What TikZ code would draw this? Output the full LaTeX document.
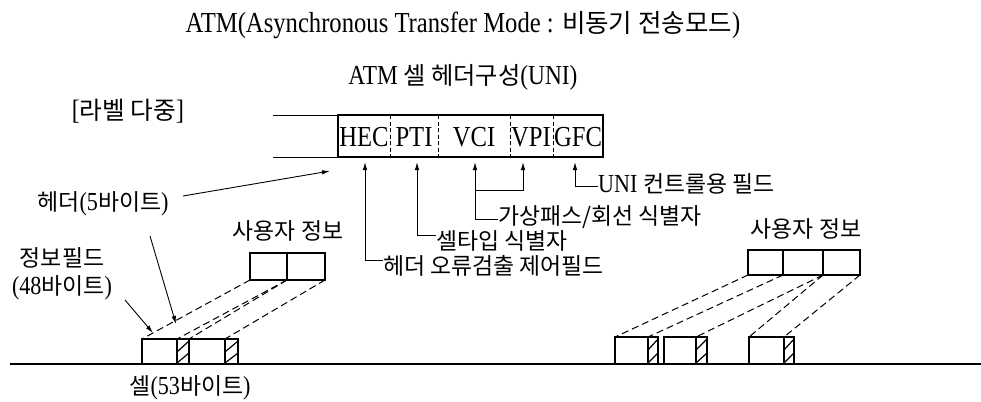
\documentclass[tikz,border=0pt]{standalone}
\usepackage{fontspec}
\setmainfont{Liberation Serif}[FakeStretch=0.85]
\newfontfamily\kr{Noto Sans CJK KR}[Scale=0.88]
\usetikzlibrary{arrows.meta}
\tikzset{
  txt/.style={inner sep=0pt, font=\fontsize{26}{30}\selectfont},
  fld/.style={inner sep=0pt, font=\fontsize{29}{32}\selectfont},
  arr/.style={-{Latex[length=8pt,width=4.5pt]}, line width=0.9pt},
  plain/.style={line width=0.9pt},
  dsh/.style={dash pattern=on 7pt off 4pt, line width=1pt},
  hbox/.style={line width=2pt},
  cellline/.style={line width=1.4pt},
  divd/.style={dash pattern=on 4pt off 2.5pt, line width=0.8pt},
  hatch/.style={line width=1.2pt}
}
\newcommand\atmcell[5]{%
  \draw[cellline] (#1,#4) rectangle (#3,#5);
  \draw[cellline] (#2,#4) -- (#2,#5);
  \draw[hatch] (#2,#5-1) -- (#3,#5-11);
  \draw[hatch] (#2,#4+13) -- (#3,#4+2);
}
\begin{document}
\begin{tikzpicture}[x=1pt,y=-1pt]
\useasboundingbox (0,0) rectangle (981,401);
\fill[white] (0,0) rectangle (981,401);

% titles
\node[txt,font=\fontsize{29}{32}\selectfont] (title) at (463,25) {ATM(Asynchronous Transfer Mode : {\kr 비동기 전송모드})};
\node[txt,font=\fontsize{27.5}{30}\selectfont] (sub) at (463,77) {ATM {\kr 셀 헤더구성}(UNI)};
\node[txt,font=\fontsize{28}{32}\selectfont] (lab) at (128,111) {[{\kr 라벨 다중}]};

% header box
\draw[plain] (273,115) -- (338,115);
\draw[plain] (273,157) -- (338,157);
\draw[hbox] (338,115) rectangle (603,157);
\foreach \xx in {390,438,510,553} \draw[divd] (\xx,115) -- (\xx,157);
\node[fld] (hec) at (364,137) {HEC};
\node[fld] (pti) at (414,137) {PTI};
\node[fld] (vci) at (474,137) {VCI};
\node[fld] (vpi) at (531,137) {VPI};
\node[fld] (gfc) at (578,137) {GFC};

% field arrows
\coordinate (hecT) at (365,162);
\coordinate (ptiT) at (417,162);
\coordinate (vciT) at (475,162);
\coordinate (vpiT) at (523,162);
\coordinate (gfcT) at (575,162);
\node[txt,anchor=west] (eHEC) at (383,266) {\kr 헤더 오류검출 제어필드};
\node[txt,anchor=west] (ePTI) at (436,241) {\kr 셀타입 식별자};
\node[txt,anchor=west] (eVC) at (498,217) {\kr 가상패스/회선 식별자};
\node[txt,anchor=west] (eGFC) at (598,184) {UNI {\kr 컨트롤용 필드}};
\draw[arr] (eHEC.west |- 0,260) -- (365,260) -- (hecT);
\draw[arr] (ePTI.west |- 0,235) -- (417,235) -- (ptiT);
\draw[arr] (eVC.west |- 0,219) -- (475,219) -- (vciT);
\draw[arr] (475,190) -- (523,190) -- (vpiT);
\draw[arr] (eGFC.west |- 0,186) -- (575,186) -- (gfcT);

% left labels
\node[txt] (h5) at (103,204) {{\kr 헤더}(5{\kr 바이트})};
\node[txt] (if1) at (62,258) {\kr 정보필드};
\node[txt] (if2) at (62,288) {(48{\kr 바이트})};
\node[txt] (cell) at (190,388) {{\kr 셀}(53{\kr 바이트})};
\node[txt] (ul) at (288,231) {\kr 사용자 정보};
\node[txt] (ur) at (806,229) {\kr 사용자 정보};

\coordinate (h5a) at (183,196);
\coordinate (boxL) at (330,171);
\coordinate (h5b) at (150,236);
\coordinate (hdrpt) at (176,324);
\coordinate (ifa) at (125,300);
\coordinate (ifpt) at (153,333);
\draw[arr] (h5a) -- (boxL);
\draw[arr] (h5b) -- (hdrpt);
\draw[arr] (ifa) -- (ifpt);

% baseline
\draw[line width=1.2pt] (10,364) -- (981,364);

% left user box and cells
\draw[cellline] (250,253) rectangle (325,280);
\draw[cellline] (287,253) -- (287,280);
\atmcell{142}{177}{189}{339}{364}
\atmcell{189}{225}{238}{339}{364}
\draw[dsh] (250,280) -- (142,339);
\draw[dsh] (287,280) -- (177,339);
\draw[dsh] (287,280) -- (189,339);
\draw[dsh] (325,280) -- (225,339);

% right user box and cells
\draw[cellline] (748,250) rectangle (860,275);
\draw[cellline] (783,250) -- (783,275);
\draw[cellline] (823,250) -- (823,275);
\atmcell{615}{648}{658}{337}{364}
\atmcell{664}{696}{707}{337}{364}
\atmcell{749}{784}{794}{337}{364}
\draw[dsh] (748,275) -- (615,337);
\draw[dsh] (783,275) -- (648,337);
\draw[dsh] (823,275) -- (696,337);
\draw[dsh] (823,275) -- (749,337);
\draw[dsh] (860,275) -- (784,337);
\end{tikzpicture}
\end{document}
